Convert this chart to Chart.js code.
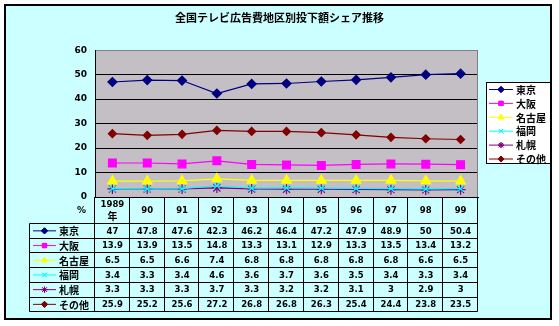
<!DOCTYPE html>
<html>
<head>
<meta charset="utf-8">
<script src="https://cdn.jsdelivr.net/npm/chart.js@4.4.1/dist/chart.umd.min.js"></script>
<style>
  html, body { margin: 0; padding: 0; background: #fff; }
  canvas { display: block; }
</style>
</head>
<body>
<canvas id="shareChart" width="559" height="326"></canvas>
<script>
// years along the bottom (first one has the 年 suffix on a second line)
const categories = [['1989', '年'], '90', '91', '92', '93', '94', '95', '96', '97', '98', '99'];

// share of TV ad spend by region, %
const tokyo   = [47, 47.8, 47.6, 42.3, 46.2, 46.4, 47.2, 47.9, 48.9, 50, 50.4];
const osaka   = [13.9, 13.9, 13.5, 14.8, 13.3, 13.1, 12.9, 13.3, 13.5, 13.4, 13.2];
const nagoya  = [6.5, 6.5, 6.6, 7.4, 6.8, 6.8, 6.8, 6.8, 6.8, 6.6, 6.5];
const fukuoka = [3.4, 3.3, 3.4, 4.6, 3.6, 3.7, 3.6, 3.5, 3.4, 3.3, 3.4];
const sapporo = [3.3, 3.3, 3.3, 3.7, 3.3, 3.2, 3.2, 3.1, 3, 2.9, 3];
const others  = [25.9, 25.2, 25.6, 27.2, 26.8, 26.8, 26.3, 25.4, 24.4, 23.8, 23.5];

const seriesNames = ['東京', '大阪', '名古屋', '福岡', '札幌', 'その他'];
const yMin = 0, yMax = 60, yStep = 10;

const jpFont = '"Noto Sans CJK JP", sans-serif';
const numFont = '"DejaVu Sans", sans-serif';

function series(label, data, color, style, radius) {
  return {
    label: label,
    data: data,
    borderColor: color,
    backgroundColor: color,
    borderWidth: 1.2,
    pointStyle: style,
    pointRadius: radius,
    pointBorderColor: color,
    pointBackgroundColor: color,
    pointBorderWidth: 1.2,
    tension: 0
  };
}

const datasets = [
  series(seriesNames[0], tokyo, '#000080', 'rectRot', 4.5),
  series(seriesNames[1], osaka, '#FF00FF', 'rect', 5.5),
  series(seriesNames[2], nagoya, '#FFFF00', 'triangle', 5.5),
  series(seriesNames[3], fukuoka, '#00FFFF', 'crossRot', 4.5),
  series(seriesNames[4], sapporo, '#800080', 'star', 5),
  series(seriesNames[5], others, '#800000', 'rectRot', 4)
];

// outer frame + grey plot background
const backdrop = {
  id: 'backdrop',
  beforeDraw(chart) {
    const ctx = chart.ctx, a = chart.chartArea;
    ctx.save();
    ctx.fillStyle = '#CCFFFF';
    ctx.fillRect(5, 5, 546, 314);
    ctx.lineWidth = 2;
    ctx.strokeStyle = '#000';
    ctx.strokeRect(5, 5, 546, 314);
    ctx.fillStyle = '#C4BFC4';
    ctx.fillRect(a.left, a.top, a.right - a.left, a.bottom - a.top);
    ctx.restore();
  },
  afterDatasetsDraw(chart) {
    const ctx = chart.ctx, a = chart.chartArea;
    ctx.save();
    ctx.strokeStyle = '#808080';
    ctx.lineWidth = 1;
    ctx.beginPath();
    ctx.moveTo(Math.round(a.right) - 0.5, a.top);
    ctx.lineTo(Math.round(a.right) - 0.5, a.bottom);
    ctx.stroke();
    ctx.restore();
  }
};

function drawKey(ctx, ds, x1, x2, y, r) {
  ctx.strokeStyle = ds.borderColor;
  ctx.lineWidth = 1;
  ctx.beginPath();
  ctx.moveTo(x1, y);
  ctx.lineTo(x2, y);
  ctx.stroke();
  ctx.fillStyle = ds.backgroundColor;
  Chart.helpers.drawPoint(ctx, { pointStyle: ds.pointStyle, radius: r, borderWidth: 1, rotation: 0 }, (x1 + x2) / 2, y);
  ctx.fill();
  ctx.stroke();
}

// boxed legend on the right
const sideLegend = {
  id: 'sideLegend',
  afterDraw(chart) {
    const ctx = chart.ctx;
    ctx.save();
    ctx.fillStyle = '#fff';
    ctx.fillRect(486.5, 82.5, 64, 81);
    ctx.strokeStyle = '#000';
    ctx.lineWidth = 1;
    ctx.strokeRect(486.5, 82.5, 64, 81);
    chart.data.datasets.forEach((ds, i) => {
      const y = 89.5 + i * 13.9;
      drawKey(ctx, ds, 489, 513, y, 3);
      ctx.fillStyle = '#000';
      ctx.font = 'bold 10px ' + jpFont;
      ctx.textAlign = 'left';
      ctx.textBaseline = 'middle';
      ctx.fillText(ds.label, 516, y + 0.5);
    });
    ctx.restore();
  }
};

// data table under the plot, columns follow the category scale
const dataTable = {
  id: 'dataTable',
  afterDraw(chart) {
    const ctx = chart.ctx, a = chart.chartArea, xs = chart.scales.x;
    const n = categories.length;
    const colW = (a.right - a.left) / n;
    const tableLeft = 29.5, headBottom = 223, rowH = 14.7;
    const rows = chart.data.datasets.length;
    const bottom = Math.round(headBottom + rows * rowH) + 0.5;
    ctx.save();
    ctx.strokeStyle = '#000';
    ctx.lineWidth = 1;
    ctx.beginPath();
    for (let i = 0; i <= n; i++) {
      const x = Math.round(a.left + i * colW) - 0.5;
      ctx.moveTo(x, a.bottom);
      ctx.lineTo(x, bottom);
    }
    ctx.moveTo(tableLeft, headBottom + 0.5);
    ctx.lineTo(tableLeft, bottom);
    for (let r = 0; r <= rows; r++) {
      const y = Math.round(headBottom + r * rowH) + 0.5;
      ctx.moveTo(tableLeft, y);
      ctx.lineTo(Math.round(a.right) - 0.5, y);
    }
    ctx.stroke();

    ctx.fillStyle = '#000';
    ctx.textAlign = 'center';
    ctx.textBaseline = 'middle';
    // column headers
    categories.forEach((c, i) => {
      const x = xs.getPixelForValue(i);
      if (Array.isArray(c)) {
        ctx.font = 'bold 8.5px ' + numFont;
        ctx.fillText(c[0], x, 205);
        ctx.font = 'bold 10px ' + jpFont;
        ctx.fillText(c[1], x, 216.5);
      } else {
        ctx.font = 'bold 8.5px ' + numFont;
        ctx.fillText(c, x, 210.5);
      }
    });
    ctx.font = 'bold 9px ' + numFont;
    ctx.fillText('%', 81.5, 211);

    // series rows
    chart.data.datasets.forEach((ds, r) => {
      const y = headBottom + r * rowH + rowH / 2 + 0.5;
      drawKey(ctx, ds, 33, 56, y, 3);
      ctx.fillStyle = '#000';
      ctx.font = 'bold 10px ' + jpFont;
      ctx.textAlign = 'left';
      ctx.fillText(ds.label, 59, y + 0.5);
      ctx.textAlign = 'center';
      ctx.font = 'bold 8.5px ' + numFont;
      ds.data.forEach((v, i) => {
        ctx.fillText(String(v), xs.getPixelForValue(i), y + 0.5);
      });
    });
    ctx.restore();
  }
};

new Chart(document.getElementById('shareChart'), {
  type: 'line',
  data: { labels: categories, datasets: datasets },
  options: {
    responsive: false,
    animation: false,
    devicePixelRatio: 1,
    layout: { padding: { left: 0, right: 0, top: 0, bottom: 129 } },
    plugins: {
      legend: { display: false },
      tooltip: { enabled: false },
      title: {
        display: true,
        text: '全国テレビ広告費地区別投下額シェア推移',
        color: '#000',
        font: { family: jpFont, size: 11, weight: 'bold' },
        padding: { top: 11, bottom: 26 }
      }
    },
    scales: {
      x: {
        offset: true,
        grid: { display: false },
        border: { color: '#000' },
        ticks: { display: false },
        afterFit(s) { s.height = 0; }
      },
      y: {
        min: yMin,
        max: yMax,
        ticks: {
          stepSize: yStep,
          color: '#000',
          padding: 8,
          font: { family: numFont, size: 9, weight: 'bold' }
        },
        grid: {
          drawTicks: false,
          color: ctx => ctx.tick && ctx.tick.value === yMax ? '#808080' : '#000'
        },
        border: { color: '#000' },
        afterFit(s) { s.width = 95; }
      },
      // empty right-hand axis that reserves room for the legend box
      yRight: {
        position: 'right',
        display: true,
        min: yMin,
        max: yMax,
        grid: { display: false, drawTicks: false },
        border: { display: false },
        ticks: { display: false },
        afterFit(s) { s.width = 81; }
      }
    }
  },
  plugins: [backdrop, sideLegend, dataTable]
});
</script>
</body>
</html>
